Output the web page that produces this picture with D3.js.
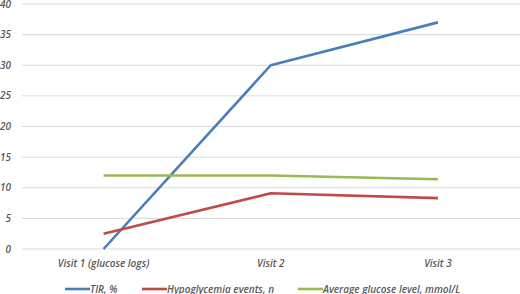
<!DOCTYPE html>
<html><head><meta charset="utf-8">
<script src="https://cdn.jsdelivr.net/npm/d3@7"></script>
<style>body{margin:0;background:#fff}svg{display:block}text{font-family:"Open Sans",sans-serif;font-style:italic;fill:#595959}</style>
</head><body><svg id="c" width="520" height="294"></svg>
<script>
const categories = ["Visit 1 (glucose logs)", "Visit 2", "Visit 3"];
const seriesNames = ["TIR, %", "Hypoglycemia events, n", "Average glucose level, mmol/L"];
const tir = [0, 30, 37];
const hypo = [2.5, 9.1, 8.3];
const glucose = [12, 12, 11.4];
const yTicks = [0, 5, 10, 15, 20, 25, 30, 35, 40];
const colors = ["#4a7ebb", "#be4b48", "#98b954"];

const svg = d3.select("#c");
const x = d3.scaleBand().domain(categories).range([20, 521.5]);
const y = d3.scaleLinear().domain([0, 40]).range([249, 4]);

svg.append("g").selectAll("line").data(yTicks).join("line")
  .attr("x1", 22).attr("x2", 520)
  .attr("y1", d => y(d)).attr("y2", d => y(d))
  .attr("stroke", "#d9d9d9").attr("stroke-width", 1);

svg.append("g").selectAll("text").data(yTicks).join("text")
  .attr("x", 11).attr("y", d => y(d)).attr("dy", "0.35em")
  .attr("text-anchor", "end").attr("font-size", 10).attr("font-weight", 600)
  .text(d => d);

svg.append("g").selectAll("text").data(categories).join("text")
  .attr("x", d => x(d) + x.bandwidth() / 2).attr("y", 263).attr("dy", "0.35em")
  .attr("text-anchor", "middle").attr("font-size", 10).attr("font-weight", 600)
  .text(d => d);

const series = [tir, hypo, glucose];
const line = d3.line().x((d, i) => x(categories[i]) + x.bandwidth() / 2).y(d => y(d));
series.forEach((s, k) => {
  svg.append("path").datum(s).attr("d", line)
    .attr("fill", "none").attr("stroke", colors[k]).attr("stroke-width", 2.6)
    .attr("stroke-linejoin", "round");
});

const legendX = [65, 142, 298];
const lg = svg.append("g");
seriesNames.forEach((n, k) => {
  lg.append("line").attr("x1", legendX[k]).attr("x2", legendX[k] + 25)
    .attr("y1", 289).attr("y2", 289).attr("stroke", colors[k]).attr("stroke-width", 2.6);
  lg.append("text").attr("x", legendX[k] + 25).attr("y", 289).attr("dy", "0.35em")
    .attr("font-size", 10).attr("font-weight", 600).text(n);
});
</script></body></html>
